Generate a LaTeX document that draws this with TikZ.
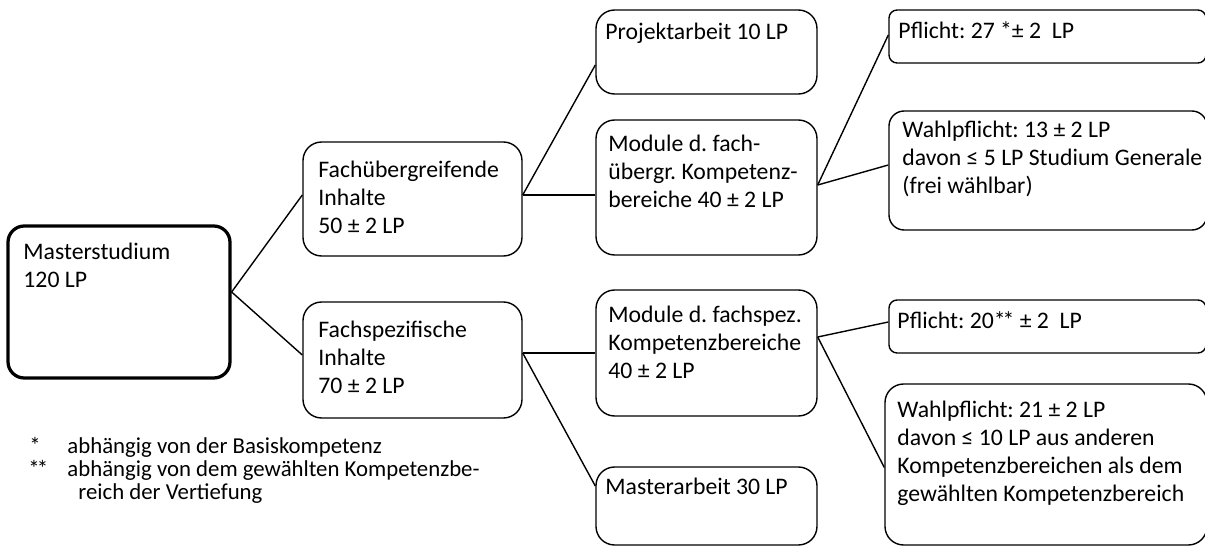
\documentclass[tikz,border=0pt]{standalone}
\usepackage{fontspec}
\setmainfont{Carlito}
\usetikzlibrary{fit,calc}
\newcommand{\twostar}{*\kern-1.3pt*}
\begin{document}
\frenchspacing
\begin{tikzpicture}[x=0.43pt,y=-0.43pt,
  box/.style={draw, line width=0.6pt, rounded corners=8pt, inner sep=0pt},
  smallbox/.style={box, rounded corners=3.5pt},
  thickbox/.style={box, line width=1.4pt, rounded corners=7pt},
  txt/.style={anchor=north west, inner sep=0pt, align=left, font=\fontsize{10.2}{12}\selectfont\frenchspacing},
  note/.style={anchor=base west, inner sep=0pt, font=\fontsize{9.8}{10}\selectfont\frenchspacing},
  conn/.style={line width=0.6pt}]
\useasboundingbox (0,0) rectangle (1205,546);
\clip (0,0) rectangle (1205,546);
% boxes
\node[thickbox, fit={(8,226) (230,378)}] (m) {};
\node[box, fit={(303,142) (522,256)}] (fu) {};
\node[box, fit={(303,302) (522,418)}] (fs) {};
\node[box, fit={(596,10) (817,94)}] (pa) {};
\node[box, fit={(596,120) (817,255)}] (mu) {};
\node[box, fit={(596,290) (817,416)}] (ms) {};
\node[box, fit={(596,467) (817,545)}] (ma) {};
\node[smallbox, fit={(889,10) (1206,63)}] (p1) {};
\node[box, rounded corners=6.5pt, fit={(889,111) (1207,230)}] (w1) {};
\node[smallbox, fit={(889,300) (1206,353)}] (p2) {};
\node[box, fit={(885,384) (1207,545)}] (w2) {};
% texts
\node[txt] (mt) at (23,243) {Masterstudium\\120 LP};
\node[txt] (fut) at (318,161) {Fachübergreifende\\Inhalte\\50 ± 2 LP};
\node[txt] (fst) at (318,321) {Fachspezifische\\Inhalte\\70 ± 2 LP};
\node[txt] (pat) at (605,23) {Projektarbeit 10 LP};
\node[txt] (mut) at (608,135) {Module d. fach-\\übergr. Kompetenz-\\bereiche 40 ± 2 LP};
\node[txt] (mst) at (608,306) {Module d. fachspez.\\Kompetenzbereiche\\40 ± 2 LP};
\node[txt] (mat) at (605,478) {Masterarbeit 30 LP};
\node[txt] (p1t) at (898,21) {Pflicht: 27 *± 2\ \ LP};
\node[txt] (w1t) at (902,121) {Wahlpflicht: 13 ± 2 LP\\davon ≤ 5 LP Studium Generale\\(frei wählbar)};
\node[txt] (p2t) at (897,311) {Pflicht: 20\twostar{} ± 2\ \ LP};
\node[txt] (w2t) at (897,401) {Wahlpflicht: 21 ± 2 LP\\davon ≤ 10 LP aus anderen\\Kompetenzbereichen als dem\\gewählten Kompetenzbereich};
% footnotes
\node[note] (s1) at (29,453) {*};
\node[note] (n1) at (67,453) {abhängig von der Basiskompetenz};
\node[note] (s2) at (28,476) {\twostar};
\node[note] (n2) at (67,476) {abhängig von dem gewählten Kompetenzbe-};
\node[note] (n3) at (78,499) {reich der Vertiefung};
% connectors
\draw[conn] ($(m.east)+(0,-10)$) -- ($(fu.west)+(0,-4)$);
\draw[conn] ($(m.east)+(0,-10)$) -- ($(fs.west)+(0,-5)$);
\draw[conn] ($(fu.east)+(0,-4)$) -- ($(pa.west)+(0,13)$);
\draw[conn] ($(fu.east)+(0,-4)$) -- ($(mu.west)+(0,7.5)$);
\draw[conn] ($(fs.east)+(0,-7)$) -- (ms.west);
\draw[conn] ($(fs.east)+(0,-7)$) -- ($(ma.west)+(0,-20)$);
\draw[conn] ($(mu.east)+(0,-2.5)$) -- ($(p1.west)+(0,-1.5)$);
\draw[conn] ($(mu.east)+(0,-2.5)$) -- ($(w1.west)+(0,-5.5)$);
\draw[conn] ($(ms.east)+(0,-16)$) -- ($(p2.west)+(0,-4.5)$);
\draw[conn] ($(ms.east)+(0,-16)$) -- ($(w2.west)+(0,3)$);
\end{tikzpicture}
\end{document}
